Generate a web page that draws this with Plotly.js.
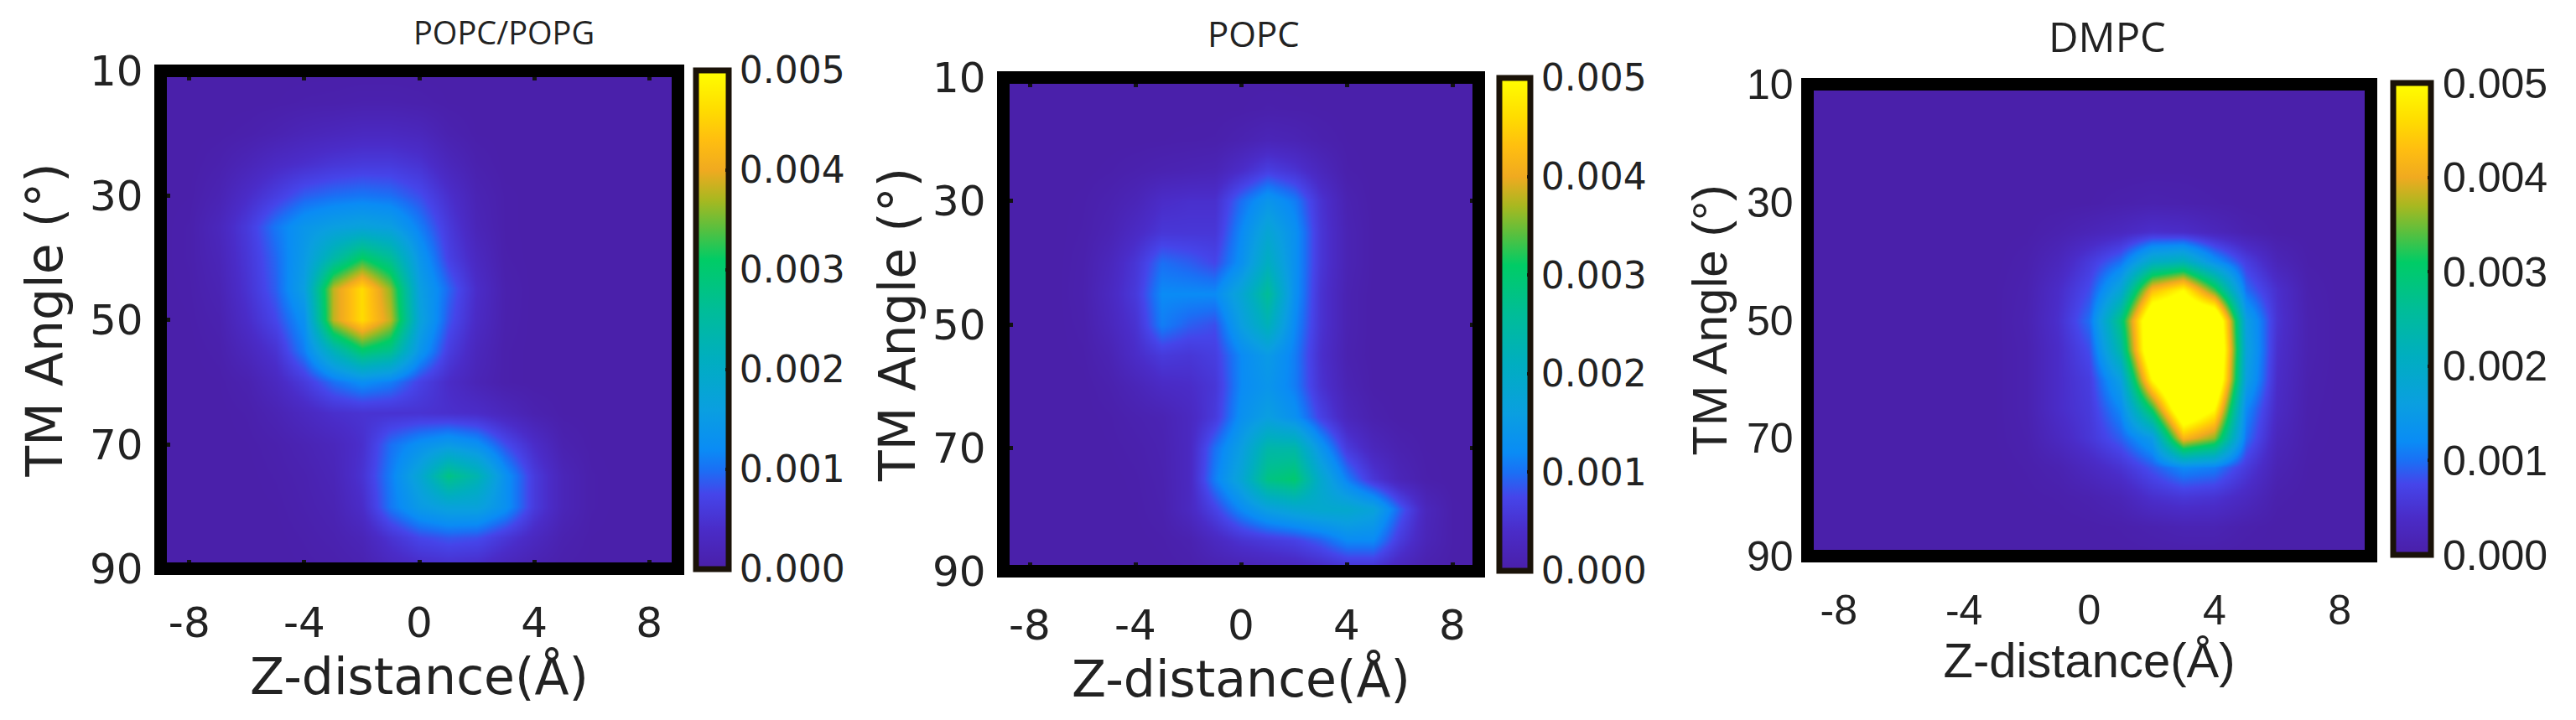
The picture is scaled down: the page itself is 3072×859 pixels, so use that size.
<!DOCTYPE html>
<html>
<head>
<meta charset="utf-8">
<script src="https://cdn.plot.ly/plotly-3.0.1.min.js"></script>
<style>html,body{margin:0;padding:0;background:#fff}</style>
</head>
<body>
<div id="plot" style="width:3072px;height:859px"></div>
<script>
var zDistance = [-9, -8, -7, -6, -5, -4, -3, -2, -1, 0, 1, 2, 3, 4, 5, 6, 7, 8, 9];
var tmAngle = [10, 15, 20, 25, 30, 35, 40, 45, 50, 55, 60, 65, 70, 75, 80, 85, 90];

// density values, units of 1e-4
var popcPopg = [
    [.2, .2, .2, .2, .2, .2, .2, .2, .2, .2, .2, .2, .2, .2, .2, .2, .2, .2, .2],
    [.2, .2, .2, .2, .3, .5, .6, .8, .8, .6, .3, .2, .2, .2, .2, .2, .2, .2, .2],
    [.2, .2, .3, .6, 1.2, 2, 2.5, 3, 3, 2.5, 1, .3, .2, .2, .2, .2, .2, .2, .2],
    [.2, .2, .8, 2, 3.5, 4.5, 5.5, 6, 6, 5, 2.5, .8, .2, .2, .2, .2, .2, .2, .2],
    [.2, .3, 1.5, 4, 6.5, 9, 10, 10.5, 10, 8, 4.5, 1.5, .4, .2, .2, .2, .2, .2, .2],
    [.2, .5, 2.5, 6, 10.5, 14, 16, 17, 16, 11, 6, 2, .4, .2, .2, .2, .2, .2, .2],
    [.2, .5, 2, 5.5, 9.5, 15, 24, 31, 26, 14, 7, 3, .5, .2, .2, .2, .2, .2, .2],
    [.2, .4, 1.5, 5, 9, 16, 38, 46, 36, 16, 9.5, 4, .8, .2, .2, .2, .2, .2, .2],
    [.2, .3, 1, 4, 7.5, 13, 38, 46, 38, 17, 8.5, 3.5, .7, .2, .2, .2, .2, .2, .2],
    [.2, .2, .6, 2.5, 5, 11, 22, 30, 27, 14, 6.5, 2.5, .5, .2, .2, .2, .2, .2, .2],
    [.2, .2, .3, 1, 3, 6, 10, 12.5, 11, 7, 4, 1.8, .5, .2, .2, .2, .2, .2, .2],
    [.2, .2, .2, .5, 1.5, 3, 4.5, 5, 5, 5, 4.5, 4, 2.5, 1, .3, .2, .2, .2, .2],
    [.2, .2, .2, .3, .7, 1.5, 2.5, 4.5, 10, 13, 15, 13, 8, 4, 1, .3, .2, .2, .2],
    [.2, .2, .2, .2, .5, 1, 2, 5, 11, 18, 28, 23, 13, 6, 2, .5, .2, .2, .2],
    [.2, .2, .2, .2, .3, .8, 1.5, 4, 10.5, 15, 17, 17, 13, 6, 2, .5, .2, .2, .2],
    [.2, .2, .2, .2, .2, .5, 1, 2, 5, 7.5, 8.5, 8, 5.5, 3, 1, .3, .2, .2, .2],
    [.2, .2, .2, .2, .2, .3, .5, 1, 2.5, 3.5, 4, 3.5, 2, 1, .4, .2, .2, .2, .2]
];
var popc = [
    [.2, .2, .2, .2, .2, .2, .2, .2, .2, .2, .2, .2, .2, .2, .2, .2, .2, .2, .2],
    [.2, .2, .2, .2, .2, .2, .2, .2, .2, .3, .5, .4, .3, .2, .2, .2, .2, .2, .2],
    [.2, .2, .2, .2, .2, .2, .3, .4, .5, 1.2, 2, 1.6, .8, .3, .2, .2, .2, .2, .2],
    [.2, .2, .2, .2, .4, .8, 1.2, 1.5, 1.8, 4, 6.5, 5, 2.5, .5, .2, .2, .2, .2, .2],
    [.2, .2, .2, .4, 1, 2, 4, 4.5, 4.5, 10, 14, 11, 5, 1.2, .2, .2, .2, .2, .2],
    [.2, .2, .2, .5, 1.5, 3.5, 5.5, 5.5, 5.5, 12, 18, 13, 5.5, 1.5, .3, .2, .2, .2, .2],
    [.2, .2, .2, .7, 2.5, 5.5, 10, 9, 7.5, 13, 21, 13, 5.5, 1.5, .3, .2, .2, .2, .2],
    [.2, .2, .2, .8, 3, 6, 12, 12, 12, 18, 26, 13, 5, 1.2, .2, .2, .2, .2, .2],
    [.2, .2, .2, .6, 2.5, 5, 11, 9, 8, 16, 22, 12, 5, 1.2, .2, .2, .2, .2, .2],
    [.2, .2, .2, .4, 1.5, 4, 6, 5.5, 6.5, 12, 15, 11, 4.5, 1, .2, .2, .2, .2, .2],
    [.2, .2, .2, .2, .8, 2, 3.5, 4, 5.5, 12, 14, 11, 5, 1.5, .3, .2, .2, .2, .2],
    [.2, .2, .2, .2, .4, 1, 1.5, 3, 6, 13, 16, 13, 7, 2.5, .8, .2, .2, .2, .2],
    [.2, .2, .2, .2, .3, .6, 1.2, 3, 10, 16, 24, 24, 14, 6, 2.5, 1, .3, .2, .2],
    [.2, .2, .2, .2, .2, .4, 1, 3, 11, 18, 28, 30, 19, 11, 5.5, 2, .5, .2, .2],
    [.2, .2, .2, .2, .2, .3, .8, 3, 7, 12, 16, 18, 19, 19, 17, 9, 2.5, .4, .2],
    [.2, .2, .2, .2, .2, .2, .4, 1, 3, 5, 6, 7, 9, 12, 12, 6, 2, .4, .2],
    [.2, .2, .2, .2, .2, .2, .2, .4, .8, 1, 1.5, 2, 3, 4, 4, 2, .6, .2, .2]
];
var dmpc = [
    [.2, .2, .2, .2, .2, .2, .2, .2, .2, .2, .2, .2, .2, .2, .2, .2, .2, .2, .2],
    [.2, .2, .2, .2, .2, .2, .2, .2, .2, .2, .2, .2, .2, .2, .2, .2, .2, .2, .2],
    [.2, .2, .2, .2, .2, .2, .2, .2, .2, .2, .2, .2, .2, .2, .2, .2, .2, .2, .2],
    [.2, .2, .2, .2, .2, .2, .2, .2, .2, .2, .2, .3, .3, .2, .2, .2, .2, .2, .2],
    [.2, .2, .2, .2, .2, .2, .2, .2, .2, .3, .7, 1, .8, .5, .2, .2, .2, .2, .2],
    [.2, .2, .2, .2, .2, .2, .2, .3, 1, 2, 3, 4.5, 4, 2.5, 1, .3, .2, .2, .2],
    [.2, .2, .2, .2, .2, .2, .2, .7, 2.5, 6, 10, 20, 22, 13, 6.5, 2, .4, .2, .2],
    [.2, .2, .2, .2, .2, .2, .3, 1, 4, 8, 18, 43, 50, 34, 10, 4.5, .8, .2, .2],
    [.2, .2, .2, .2, .2, .2, .3, 1.2, 4.5, 10, 28, 60, 62, 62, 16, 5, 1, .2, .2],
    [.2, .2, .2, .2, .2, .2, .3, 1, 4, 8, 24, 60, 70, 65, 17, 4.5, 1, .2, .2],
    [.2, .2, .2, .2, .2, .2, .3, 1, 4, 6.5, 16, 50, 70, 62, 16, 4, .8, .2, .2],
    [.2, .2, .2, .2, .2, .2, .3, 1, 4, 6, 12, 32, 60, 50, 12, 3.5, .6, .2, .2],
    [.2, .2, .2, .2, .2, .2, .3, .8, 3, 5.5, 9, 15, 42, 36, 10, 2.5, .5, .2, .2],
    [.2, .2, .2, .2, .2, .2, .2, .5, 1.2, 3, 5, 8.5, 12, 11, 6, 1.5, .3, .2, .2],
    [.2, .2, .2, .2, .2, .2, .2, .3, .5, 1, 2, 4.5, 5.5, 5, 3, .6, .2, .2, .2],
    [.2, .2, .2, .2, .2, .2, .2, .2, .2, .3, .5, 1, 1.5, 1.5, .6, .2, .2, .2, .2],
    [.2, .2, .2, .2, .2, .2, .2, .2, .2, .2, .2, .3, .3, .3, .2, .2, .2, .2, .2]
];

var xTicks = [-8, -4, 0, 4, 8];
var xTickLabels = ['-8', '-4', '0', '4', '8'];
var yTicks = [10, 30, 50, 70, 90];
var barTicks = [0, 0.001, 0.002, 0.003, 0.004, 0.005];
var densityColors = [
    [0, '#4a1fa8'], [0.08, '#4a2cc8'], [0.15, '#4545ea'], [0.2, '#1a70f5'],
    [0.24, '#0a8cf5'], [0.32, '#0a9fe0'], [0.42, '#00aec0'], [0.52, '#00bd98'],
    [0.62, '#00cc66'], [0.68, '#55c040'], [0.74, '#a8b820'], [0.8, '#f0aa20'],
    [0.86, '#ffbe10'], [0.92, '#ffdc00'], [1, '#ffff00']
];

var W = 3072, H = 859;
var DEJAVU = '"DejaVu Sans"', LIBERATION = '"Liberation Sans"';

// frame is the centre line of the thick border, in page pixels
var panels = [
    {z: popcPopg, title: 'POPC/POPG', frame: [191.5, 808.5, 84.5, 678.5], bar: [830, 869, 84, 679],
        font: DEJAVU, tick: 50, barTick: 44, axisTitle: 60, titleSize: 38, titleX: 601, titleY: 38,
        yMirror: false, ticklen: 11, yLabelGap: 20, yTitleGap: 12},
    {z: popc, title: 'POPC', frame: [1196.5, 1763.5, 92.5, 681.5], bar: [1788, 1825, 93, 681],
        font: DEJAVU, tick: 50, barTick: 44, axisTitle: 60, titleSize: 42, titleX: 1495, titleY: 39,
        yMirror: 'ticks', ticklen: 11, yLabelGap: 20, yTitleGap: 0},
    {z: dmpc, title: 'DMPC', frame: [2155.5, 2827.5, 100.5, 663.5], bar: [2854, 2899, 99, 662],
        font: LIBERATION, tick: 50, barTick: 50, axisTitle: 58, titleSize: 49, titleX: 2513, titleY: 43,
        yMirror: false, ticklen: 0, yLabelGap: 16, yTitleGap: 4}
];

function scaled(rows) {
    return rows.map(function (row) {
        return row.map(function (v) { return v * 1e-4; });
    });
}

var traces = [], shapes = [], annotations = [];
var layout = {
    width: W,
    height: H,
    margin: {l: 0, r: 0, t: 0, b: 0, pad: 0},
    paper_bgcolor: '#fff',
    plot_bgcolor: '#fff',
    showlegend: false
};

panels.forEach(function (p, i) {
    var n = i === 0 ? '' : String(i + 1);
    var tickFont = {family: p.font, size: p.tick, color: '#222'};
    var titleFont = {family: p.font, size: p.axisTitle, color: '#222'};

    traces.push({
        type: 'heatmap',
        x: zDistance,
        y: tmAngle,
        z: scaled(p.z),
        xaxis: 'x' + n,
        yaxis: 'y' + n,
        zmin: 0,
        zmax: 0.005,
        zsmooth: 'best',
        colorscale: densityColors,
        hoverinfo: 'skip',
        colorbar: {
            x: p.bar[0] / W,
            xanchor: 'left',
            xpad: 0,
            y: 1 - p.bar[3] / H,
            yanchor: 'bottom',
            ypad: 0,
            len: (p.bar[3] - p.bar[2]) / H,
            lenmode: 'fraction',
            thickness: p.bar[1] - p.bar[0],
            thicknessmode: 'pixels',
            outlinewidth: 7,
            outlinecolor: '#1a1208',
            tickmode: 'array',
            tickvals: barTicks,
            ticktext: barTicks.map(function (t) { return t.toFixed(3); }),
            ticks: 'inside',
            ticklen: 7,
            tickwidth: 4,
            tickcolor: '#111',
            tickfont: {family: p.font, size: p.barTick, color: '#222'}
        }
    });

    layout['xaxis' + n] = {
        domain: [p.frame[0] / W, p.frame[1] / W],
        anchor: 'y' + n,
        range: [-9, 9],
        tickmode: 'array',
        tickvals: xTicks,
        ticktext: xTickLabels,
        ticks: p.ticklen ? 'inside' : '',
        ticklen: p.ticklen,
        tickwidth: 5,
        tickcolor: '#111',
        mirror: p.ticklen ? 'ticks' : false,
        ticklabelstandoff: 30,
        tickfont: tickFont,
        showgrid: false,
        zeroline: false,
        showline: false,
        title: {text: 'Z-distance(Å)', font: titleFont, standoff: 12}
    };
    layout['yaxis' + n] = {
        domain: [1 - p.frame[3] / H, 1 - p.frame[2] / H],
        anchor: 'x' + n,
        range: [90, 10],
        tickmode: 'array',
        tickvals: yTicks,
        ticks: p.ticklen ? 'inside' : '',
        ticklen: p.ticklen,
        tickwidth: 5,
        tickcolor: '#111',
        mirror: p.yMirror,
        ticklabelstandoff: p.yLabelGap,
        tickfont: tickFont,
        showgrid: false,
        zeroline: false,
        showline: false,
        title: {text: 'TM Angle (°)', font: titleFont, standoff: p.yTitleGap}
    };

    shapes.push({
        type: 'rect',
        xref: 'x' + n + ' domain',
        yref: 'y' + n + ' domain',
        x0: 0, x1: 1, y0: 0, y1: 1,
        line: {color: '#000', width: 15},
        layer: 'above'
    });

    annotations.push({
        xref: 'paper', yref: 'paper',
        x: p.titleX / W,
        y: 1 - p.titleY / H,
        xanchor: 'center',
        yanchor: 'middle',
        showarrow: false,
        text: p.title,
        font: {family: '"Open Sans"', size: p.titleSize, color: '#222'}
    });
});

layout.shapes = shapes;
layout.annotations = annotations;

Plotly.newPlot('plot', traces, layout, {displayModeBar: false, staticPlot: true});
</script>
</body>
</html>
